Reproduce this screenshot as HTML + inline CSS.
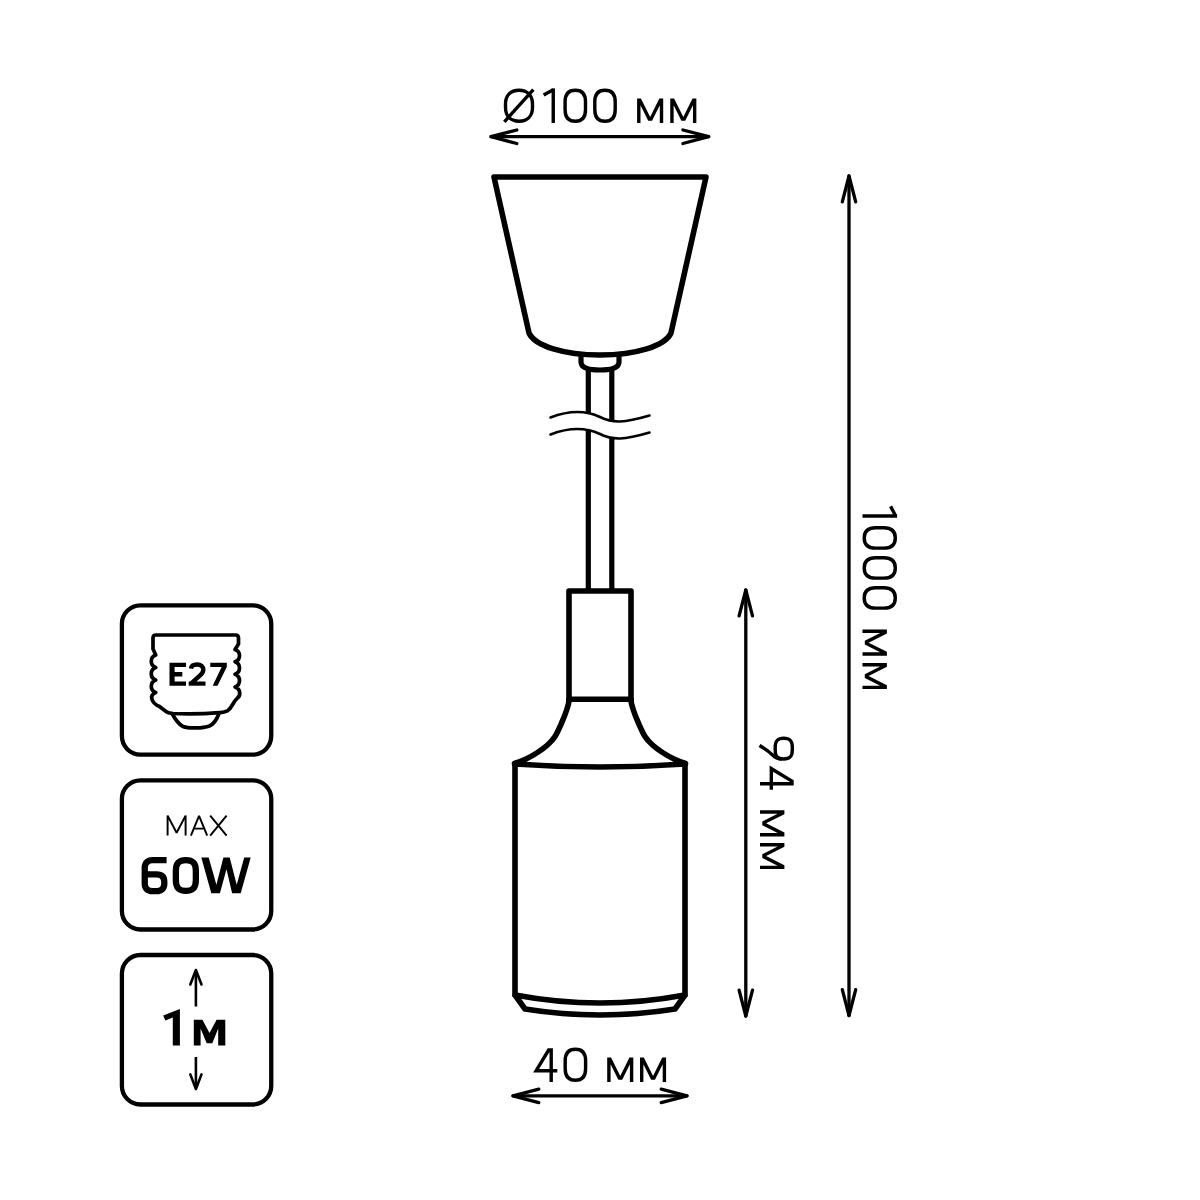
<!DOCTYPE html><html><head><meta charset="utf-8"><style>html,body{margin:0;padding:0;background:#fff;width:1200px;height:1200px;overflow:hidden}svg{display:block}</style></head><body>
<svg width="1200" height="1200" viewBox="0 0 1200 1200">
<rect width="1200" height="1200" fill="#fff"/>
<g fill="none" stroke="#000" stroke-linecap="round" stroke-linejoin="round">
<g stroke-width="3.3"><path d="M491,136.7 H708.7"/><path d="M516.8,130 L491,136.7 L516.8,143.5"/><path d="M682.9,130 L708.7,136.7 L682.9,143.5"/></g>
<g stroke-width="3.3"><path d="M513,1095.8 H687"/><path d="M538.8,1089.1 L513,1095.8 L538.8,1102.6"/><path d="M661.2,1089.1 L687,1095.8 L661.2,1102.6"/></g>
<g stroke-width="3.3"><path d="M849,176 V1015.5"/><path d="M842.3,201.8 L849,176 L855.7,201.8"/><path d="M842.3,989.7 L849,1015.5 L855.7,989.7"/></g>
<g stroke-width="3.3"><path d="M745.8,590 V1016"/><path d="M739.1,615.8 L745.8,590 L752.5,615.8"/><path d="M739.1,990.2 L745.8,1016 L752.5,990.2"/></g>

  <path stroke-width="5.6" d="M494,177 H706 L671,333 C665,346 636,355 600,355 C564,355 535,346 529,333 Z"/>
  <path stroke-width="5.2" d="M581,356 V362 C581,368 590,370 600,370 C610,370 619,368 619,362 V356"/>
  <path stroke-width="5.2" stroke-linecap="butt" d="M588.3,370 V591 M611.8,370 V591"/>
  <path fill="#fff" stroke="none" d="M550.5,417.5 C570,410 585,410 600,417 C613,423.5 624,423 649.5,415.5 L649.5,432.5 C624,440 613,440.5 600,434 C585,427 570,427 550.5,434.5 Z"/>
  <path stroke-width="2.6" d="M550.5,417.5 C570,410 585,410 600,417 C613,423.5 624,423 649.5,415.5"/>
  <path stroke-width="2.6" d="M550.5,434.5 C570,427 585,427 600,434 C613,440.5 624,440 649.5,432.5"/>
  <path stroke-width="5.6" d="M569,700 V591 H631 V700"/>
  <path stroke-width="5.6" d="M569,699.3 H631"/>
  <path stroke-width="5.6" d="M569,700 C569,704 567.47,707.33 566.3,711 C565.13,714.67 563.88,717.75 562,722 C560.12,726.25 557.42,732.67 555,736.5 C552.58,740.33 550.42,742.33 547.5,745 C544.58,747.67 541.08,750.17 537.5,752.5 C533.92,754.83 529.83,757.17 526,759 C522.17,760.83 518.5,762.17 514.5,763.5"/>
  <path stroke-width="5.6" d="M631,700 C631,704 632.53,707.33 633.7,711 C634.87,714.67 636.12,717.75 638,722 C639.88,726.25 642.58,732.67 645,736.5 C647.42,740.33 649.58,742.33 652.5,745 C655.42,747.67 658.92,750.17 662.5,752.5 C666.08,754.83 670.17,757.17 674,759 C677.83,760.83 681.5,762.17 685.5,763.5"/>
  <path stroke-width="5.6" d="M515,764 Q600,770 685,764"/>
  <path stroke-width="5.6" d="M515,764 V995 L525,1009 Q600,1021 675,1009 L685,995 V764"/>
  <path stroke-width="5.6" d="M515,995 Q600,1011 685,995"/>
  <rect stroke-width="4.3" x="121.9" y="605.4" width="149.35" height="149.2" rx="18.5"/>
  <rect stroke-width="4.3" x="121.9" y="780.4" width="149.35" height="149.1" rx="18.5"/>
  <rect stroke-width="4.3" x="121.9" y="955" width="149.35" height="149.5" rx="18.5"/>
  <path stroke-width="3.7" d="M153,649 V638 Q153,635 156,635 H235.5 Q238.5,635 238.5,638 V644 L235,649.6
    C241,651.6 241,659.7 235,661.7 C241,663.7 241,672.2 235,674.2 C241,676.2 241,685 235,687
    C241,689 241,696 236.7,698.8 C233,702 232,708 227.5,710.8 C224,712.5 221,712.5 219.6,712.6
    Q197,714.5 172,713.5 C168,713 166,711.5 166,711.5 L159.5,706.5
    C151,703 149,695 155.75,692.5 C149.75,690.5 149.75,682 155.75,680 C149.75,678 149.75,669.5 155.75,667.5
    C149.75,665.5 149.75,657 155.75,655 L153,649"/>
  <path stroke-width="3.7" d="M172,713.5 C175,719 178,724 183,726.5 C188,728.5 203,728.5 209.4,726 C214,724 217,719 219.2,713"/>
  <g stroke-width="2.6">
    <path stroke-linecap="butt" d="M195.9,972 V1006.5"/>
    <path d="M190.3,984.5 L195.9,970 L201.5,984.5"/>
    <path stroke-linecap="butt" d="M195.9,1057 V1087"/>
    <path d="M190.3,1074.4 L195.9,1089 L201.5,1074.4"/>
  </g>

</g>
<g transform="translate(503.75,123)" fill="none" stroke="#000" stroke-width="3.4"><g transform="translate(0,0)"><path d="M15.25,-32.8 H15.25 C23.62,-32.8 28.75,-27.48 28.75,-18.8 V-15.7 C28.75,-7.02 23.62,-1.7 15.25,-1.7 H15.25 C6.88,-1.7 1.75,-7.02 1.75,-15.7 V-18.8 C1.75,-27.48 6.88,-32.8 15.25,-32.8 Z"/><path d="M0.6,-1.2 L29.6,-33.4" stroke-linecap="butt"/></g><g transform="translate(49.5,0)"><path d="M-9.6,-28.1 L0,-33.2" stroke-linecap="butt"/><path d="M0,0 V-34.6" stroke-linecap="butt"/></g><g transform="translate(59.65,0)"><path d="M11.9,-32.8 H11.9 C18.84,-32.8 22.1,-29.12 22.1,-21.3 V-13.2 C22.1,-5.38 18.84,-1.7 11.9,-1.7 H11.9 C4.96,-1.7 1.7,-5.38 1.7,-13.2 V-21.3 C1.7,-29.12 4.96,-32.8 11.9,-32.8 Z"/></g><g transform="translate(89.35,0)"><path d="M11.9,-32.8 H11.9 C18.84,-32.8 22.1,-29.12 22.1,-21.3 V-13.2 C22.1,-5.38 18.84,-1.7 11.9,-1.7 H11.9 C4.96,-1.7 1.7,-5.38 1.7,-13.2 V-21.3 C1.7,-29.12 4.96,-32.8 11.9,-32.8 Z"/></g><g transform="translate(133.35,0)"><path fill="#000" stroke="none" d="M0,0 V-24.4 H3.84 L13.05,-6.11 L22.26,-24.4 H26.1 V0 H22.7 V-17.65 L14.97,-2.3 H11.13 L3.4,-17.65 V0 Z"/></g><g transform="translate(166.5,0)"><path fill="#000" stroke="none" d="M0,0 V-24.4 H3.84 L13.05,-6.11 L22.26,-24.4 H26.1 V0 H22.7 V-17.65 L14.97,-2.3 H11.13 L3.4,-17.65 V0 Z"/></g></g>
<g transform="translate(533.1,1082)" fill="none" stroke="#000" stroke-width="3.4"><g transform="translate(0,0)"><path fill="#000" stroke="none" fill-rule="evenodd" d="M0,-9.6 L14.6,-33.7 H19.8 V-13 H24.2 V-9.6 H19.8 V0 H16.4 V-9.6 Z M6.04,-13 L16.4,-30.1 V-13 Z"/></g><g transform="translate(30.4,0)"><path d="M11.9,-32.8 H11.9 C18.84,-32.8 22.1,-29.12 22.1,-21.3 V-13.2 C22.1,-5.38 18.84,-1.7 11.9,-1.7 H11.9 C4.96,-1.7 1.7,-5.38 1.7,-13.2 V-21.3 C1.7,-29.12 4.96,-32.8 11.9,-32.8 Z"/></g><g transform="translate(74.1,0)"><path fill="#000" stroke="none" d="M0,0 V-24.4 H3.84 L13.05,-6.11 L22.26,-24.4 H26.1 V0 H22.7 V-17.65 L14.97,-2.3 H11.13 L3.4,-17.65 V0 Z"/></g><g transform="translate(106.9,0)"><path fill="#000" stroke="none" d="M0,0 V-24.4 H3.84 L13.05,-6.11 L22.26,-24.4 H26.1 V0 H22.7 V-17.65 L14.97,-2.3 H11.13 L3.4,-17.65 V0 Z"/></g></g>
<g transform="translate(862.5,0) rotate(90)" fill="none" stroke="#000" stroke-width="3.4"><g transform="translate(516,0)"><path d="M-9.6,-28.1 L0,-33.2" stroke-linecap="butt"/><path d="M0,0 V-34.6" stroke-linecap="butt"/></g><g transform="translate(526,0)"><path d="M11.9,-32.8 H11.9 C18.84,-32.8 22.1,-29.12 22.1,-21.3 V-13.2 C22.1,-5.38 18.84,-1.7 11.9,-1.7 H11.9 C4.96,-1.7 1.7,-5.38 1.7,-13.2 V-21.3 C1.7,-29.12 4.96,-32.8 11.9,-32.8 Z"/></g><g transform="translate(556,0)"><path d="M11.9,-32.8 H11.9 C18.84,-32.8 22.1,-29.12 22.1,-21.3 V-13.2 C22.1,-5.38 18.84,-1.7 11.9,-1.7 H11.9 C4.96,-1.7 1.7,-5.38 1.7,-13.2 V-21.3 C1.7,-29.12 4.96,-32.8 11.9,-32.8 Z"/></g><g transform="translate(586,0)"><path d="M11.9,-32.8 H11.9 C18.84,-32.8 22.1,-29.12 22.1,-21.3 V-13.2 C22.1,-5.38 18.84,-1.7 11.9,-1.7 H11.9 C4.96,-1.7 1.7,-5.38 1.7,-13.2 V-21.3 C1.7,-29.12 4.96,-32.8 11.9,-32.8 Z"/></g><g transform="translate(629.6,0)"><path fill="#000" stroke="none" d="M0,0 V-24.4 H3.84 L13.05,-6.11 L22.26,-24.4 H26.1 V0 H22.7 V-17.65 L14.97,-2.3 H11.13 L3.4,-17.65 V0 Z"/></g><g transform="translate(663,0)"><path fill="#000" stroke="none" d="M0,0 V-24.4 H3.84 L13.05,-6.11 L22.26,-24.4 H26.1 V0 H22.7 V-17.65 L14.97,-2.3 H11.13 L3.4,-17.65 V0 Z"/></g></g>
<g transform="translate(760,0) rotate(90)" fill="none" stroke="#000" stroke-width="3.4"><g transform="translate(736.55,0)"><path d="M10.7,-32.3 H13.45 C20.11,-32.3 22.45,-30.08 22.45,-23.75 V-23.75 C22.45,-17.42 20.11,-15.2 13.45,-15.2 H10.7 C4.04,-15.2 1.7,-17.42 1.7,-23.75 V-23.75 C1.7,-30.08 4.04,-32.3 10.7,-32.3 Z"/><path d="M22.45,-22 C22.45,-17 21,-14.8 18.6,-12.8 C15.5,-9.5 11,-3 9,0.5" stroke-linecap="butt"/></g><g transform="translate(765.6,0)"><path fill="#000" stroke="none" fill-rule="evenodd" d="M0,-9.6 L14.6,-33.7 H19.8 V-13 H24.2 V-9.6 H19.8 V0 H16.4 V-9.6 Z M6.04,-13 L16.4,-30.1 V-13 Z"/></g><g transform="translate(810.3,0)"><path fill="#000" stroke="none" d="M0,0 V-24.4 H3.84 L13.05,-6.11 L22.26,-24.4 H26.1 V0 H22.7 V-17.65 L14.97,-2.3 H11.13 L3.4,-17.65 V0 Z"/></g><g transform="translate(843,0)"><path fill="#000" stroke="none" d="M0,0 V-24.4 H3.84 L13.05,-6.11 L22.26,-24.4 H26.1 V0 H22.7 V-17.65 L14.97,-2.3 H11.13 L3.4,-17.65 V0 Z"/></g></g>
<path fill="#000" d="M169.5,662.8 H186 V667.1 H174.6 V672.1 H182.3 V676.4 H174.6 V681.4 H186 V685.7 H169.5 Z"/>
<path fill="none" stroke="#000" stroke-width="4.4" stroke-linecap="butt" stroke-linejoin="round" d="M190.9,668.6 C191.3,665.6 194,664.5 197,664.5 C201,664.5 203.3,666.6 203.3,669.8 C203.3,672.6 201.6,674.4 199,676.4 L191.2,683.3"/>
<rect x="188.7" y="681.5" width="16.8" height="4.2" fill="#000"/>
<path fill="#000" d="M210.3,662.8 H226.8 V667.1 L217.5,685.7 H212.7 L221.6,667.1 H210.3 Z"/>
<g fill="none" stroke="#000" stroke-width="1.95" stroke-linecap="butt" stroke-linejoin="bevel"><path d="M167.6,835.6 V815.6 L176.6,832.8 L185.6,815.6 V835.6"/><path d="M190.9,835.6 L199.05,815.8 L207.2,835.6 M193.4,828.6 H204.7"/><path d="M210.2,815.6 L226.6,835.6 M226.6,815.6 L210.2,835.6"/></g>
<path fill="none" stroke="#000" stroke-width="6.3" stroke-linecap="butt" stroke-linejoin="round" d="M166.6,860.2 H152.5 C147.5,860.2 144.75,863 144.75,868 V883.5 C144.75,888.6 147.6,891.2 152.5,891.2 H156.5 C161.5,891.2 164.3,888.6 164.3,883.5 V881.8 C164.3,876.8 161.5,874.4 156.5,874.4 H145"/>
<path fill="none" stroke="#000" stroke-width="6.3" d="M185.85,860.15 H185.85 C192.85,860.15 195.85,863.3 195.85,870.65 V880.35 C195.85,887.7 192.85,890.85 185.85,890.85 H185.85 C178.85,890.85 175.85,887.7 175.85,880.35 V870.65 C175.85,863.3 178.85,860.15 185.85,860.15 Z"/>
<path fill="#000" d="M201.3,857.6 H208.7 L216.4,884.7 L223.4,857.6 H229.7 L236.7,884.7 L244.2,857.6 H250.7 L240.7,893.3 H232.1 L226.5,869.3 L219.9,893.3 H211.3 Z"/>
<path fill="#000" d="M163.2,1015.4 L179.9,1008.9 V1045.4 H172.8 V1017.6 L165.4,1020.6 Z"/>
<path fill="#000" d="M193.8,1045.4 V1019.7 H202.4 L209.5,1033 L216.6,1019.7 H225.3 V1045.4 H218.2 V1028.5 L212.3,1043.3 H206.7 L200.6,1028.5 V1045.4 Z"/>
</svg></body></html>
